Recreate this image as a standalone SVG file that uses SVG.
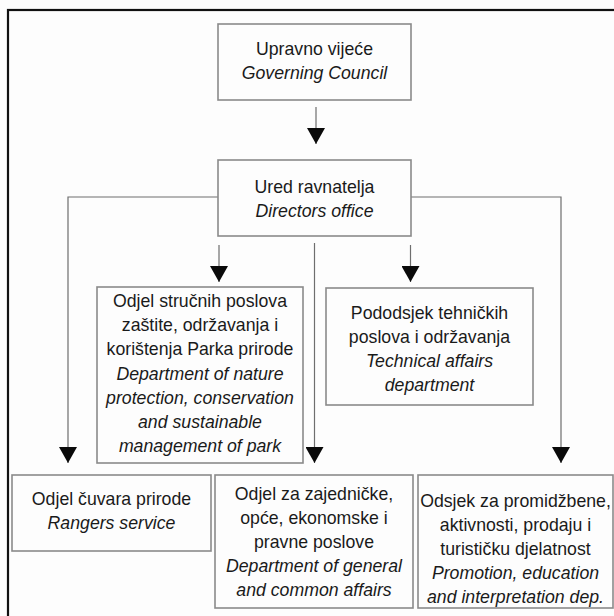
<svg xmlns="http://www.w3.org/2000/svg" width="614" height="616" viewBox="0 0 614 616">
<style>
.box{fill:#fdfdfd;stroke:#8a8a8a;stroke-width:1.6}
.t{font-family:"Liberation Sans",Arial,sans-serif;font-size:17.7px;fill:#1a1a1a;text-anchor:middle}
.i{font-style:italic}
.c{fill:none;stroke:#6e6e6e;stroke-width:1.2}
</style>
<defs>
<marker id="ah" markerUnits="userSpaceOnUse" markerWidth="16" markerHeight="18" viewBox="0 0 16 18" refX="16" refY="9" orient="auto">
<path d="M0,0 L16,9 L0,18 Z" fill="#0a0a0a"/>
</marker>
</defs>
<rect x="0" y="0" width="614" height="616" fill="#fdfdfd"/>
<rect x="8" y="10" width="640" height="640" fill="none" stroke="#111" stroke-width="2.2"/>
<g id="connectors">
<path class="c" d="M316,107 V144" marker-end="url(#ah)"/>
<path class="c" d="M218,197 H68 V463" marker-end="url(#ah)"/>
<path class="c" d="M411,197 H561 V463" marker-end="url(#ah)"/>
<path class="c" d="M314.5,243 V463" marker-end="url(#ah)"/>
<path class="c" d="M219,245 V282" marker-end="url(#ah)"/>
<path class="c" d="M410.5,245 V282" marker-end="url(#ah)"/>
</g>
<g id="governing-council">
<rect class="box" x="218" y="24" width="193" height="76"/>
<text class="t" x="314.5" y="55">Upravno vijeće</text>
<text class="t i" x="314.5" y="79">Governing Council</text>
</g>
<g id="directors-office">
<rect class="box" x="218" y="160" width="193" height="76"/>
<text class="t" x="314.5" y="193">Ured ravnatelja</text>
<text class="t i" x="314.5" y="217">Directors office</text>
</g>
<g id="nature-protection">
<rect class="box" x="97" y="287" width="206" height="176"/>
<text class="t" x="200" y="307">Odjel stručnih poslova</text>
<text class="t" x="200" y="331">zaštite, održavanja i</text>
<text class="t" x="200" y="355">korištenja Parka prirode</text>
<text class="t i" x="200" y="380">Department of nature</text>
<text class="t i" x="200" y="404">protection, conservation</text>
<text class="t i" x="200" y="428">and sustainable</text>
<text class="t i" x="200" y="452">management of park</text>
</g>
<g id="technical-affairs">
<rect class="box" x="326" y="288" width="207" height="117"/>
<text class="t" x="429.5" y="319">Pododsjek tehničkih</text>
<text class="t" x="429.5" y="343">poslova i održavanja</text>
<text class="t i" x="429.5" y="367">Technical affairs</text>
<text class="t i" x="429.5" y="391">department</text>
</g>
<g id="rangers-service">
<rect class="box" x="12" y="475" width="199" height="76"/>
<text class="t" x="111.5" y="505">Odjel čuvara prirode</text>
<text class="t i" x="111.5" y="529">Rangers service</text>
</g>
<g id="general-affairs">
<rect class="box" x="215" y="475" width="198" height="133"/>
<text class="t" x="314" y="500">Odjel za zajedničke,</text>
<text class="t" x="314" y="524">opće, ekonomske i</text>
<text class="t" x="314" y="548">pravne poslove</text>
<text class="t i" x="314" y="572">Department of general</text>
<text class="t i" x="314" y="596">and common affairs</text>
</g>
<g id="promotion">
<rect class="box" x="418" y="475" width="195" height="133"/>
<text class="t" x="515.5" y="507">Odsjek za promidžbene,</text>
<text class="t" x="515.5" y="531">aktivnosti, prodaju i</text>
<text class="t" x="515.5" y="555">turističku djelatnost</text>
<text class="t i" x="515.5" y="579">Promotion, education</text>
<text class="t i" x="515.5" y="603">and interpretation dep.</text>
</g>
</svg>
